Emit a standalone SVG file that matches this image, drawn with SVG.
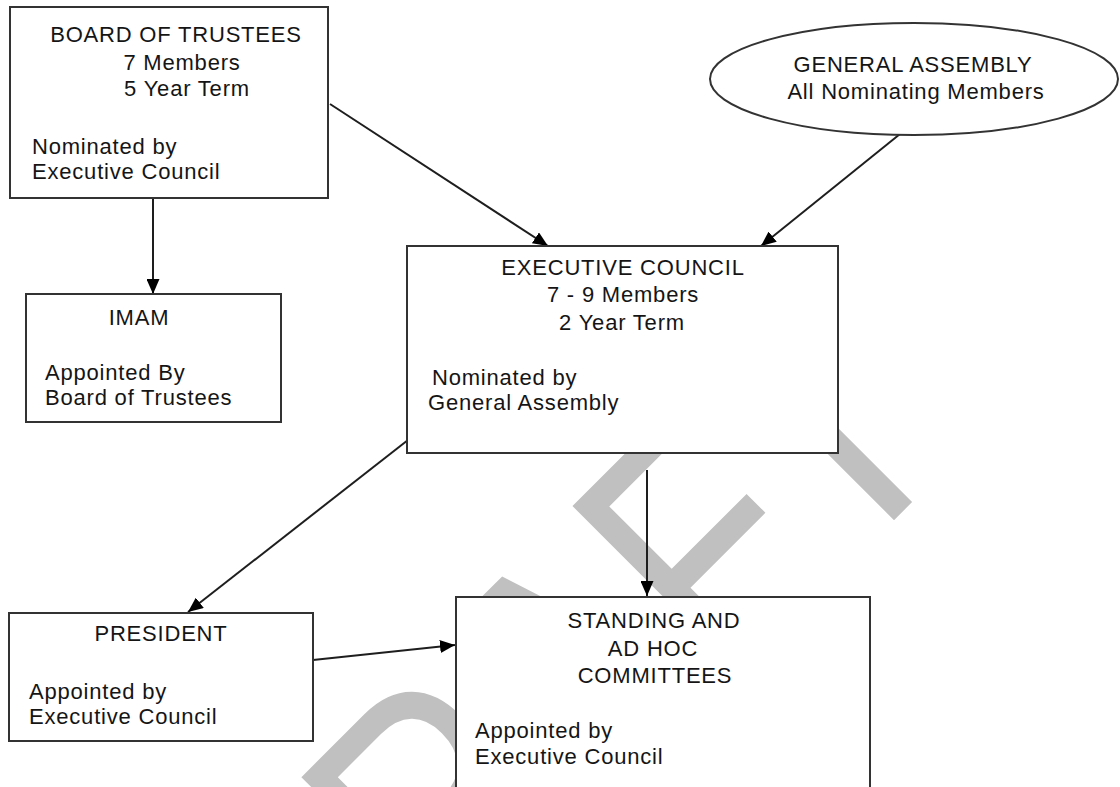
<svg xmlns="http://www.w3.org/2000/svg" width="1120" height="787" viewBox="0 0 1120 787">
<style>
  .box { fill: #ffffff; stroke: #333333; stroke-width: 2; }
  .t { font-family: "Liberation Sans", Arial, sans-serif; font-size: 22px; letter-spacing: 0.8px; fill: #151515; }
  .c { text-anchor: middle; }
  .wm { font-family: "Liberation Sans", Arial, sans-serif; font-size: 345px; fill: #c0c0c0; }
  .conn { stroke: #1e1e1e; stroke-width: 2; fill: none; marker-end: url(#arrow); }
</style>
<defs>
  <marker id="arrow" viewBox="0 0 15 13" refX="15" refY="6.5" markerWidth="15" markerHeight="13" markerUnits="userSpaceOnUse" orient="auto">
    <path d="M0,0 L15,6.5 L0,13 Z" fill="#000000"/>
  </marker>
</defs>
<rect width="1120" height="787" fill="#ffffff"/>
<g id="watermark">
  <text class="wm" transform="rotate(-45) scale(0.8 1)" x="-698" y="1000">DRAFT</text>
</g>
<g id="connectors">
  <line class="conn" x1="153" y1="198" x2="153" y2="294"/>
  <line class="conn" x1="330" y1="104" x2="548" y2="246"/>
  <line class="conn" x1="900" y1="134" x2="761" y2="246"/>
  <line class="conn" x1="408" y1="440" x2="188" y2="612"/>
  <line class="conn" x1="647" y1="470" x2="647" y2="596"/>
  <line class="conn" x1="313" y1="660" x2="455" y2="645"/>
</g>
<g id="board">
  <rect class="box" x="10" y="7" width="318" height="191"/>
  <text class="t c" x="176" y="42">BOARD OF TRUSTEES</text>
  <text class="t c" x="182" y="70">7 Members</text>
  <text class="t c" x="187" y="96">5 Year Term</text>
  <text class="t" x="32" y="154">Nominated by</text>
  <text class="t" x="32" y="179">Executive Council</text>
</g>
<g id="general-assembly">
  <ellipse class="box" cx="914" cy="79" rx="204" ry="56"/>
  <text class="t c" x="913" y="72">GENERAL ASSEMBLY</text>
  <text class="t c" x="916" y="99">All Nominating Members</text>
</g>
<g id="executive">
  <rect class="box" x="407" y="246" width="431" height="207"/>
  <text class="t c" x="623" y="275">EXECUTIVE COUNCIL</text>
  <text class="t c" x="623" y="302">7 - 9 Members</text>
  <text class="t c" x="622" y="330">2 Year Term</text>
  <text class="t" x="432" y="385">Nominated by</text>
  <text class="t" x="428" y="410">General Assembly</text>
</g>
<g id="imam">
  <rect class="box" x="26" y="294" width="255" height="128"/>
  <text class="t c" x="139" y="325">IMAM</text>
  <text class="t" x="45" y="380">Appointed By</text>
  <text class="t" x="45" y="405">Board of Trustees</text>
</g>
<g id="president">
  <rect class="box" x="9" y="613" width="304" height="128"/>
  <text class="t c" x="161" y="641">PRESIDENT</text>
  <text class="t" x="29" y="699">Appointed by</text>
  <text class="t" x="29" y="724">Executive Council</text>
</g>
<g id="committees">
  <rect class="box" x="456" y="597" width="414" height="194"/>
  <text class="t c" x="654" y="628">STANDING AND</text>
  <text class="t c" x="653" y="656">AD HOC</text>
  <text class="t c" x="655" y="683">COMMITTEES</text>
  <text class="t" x="475" y="738">Appointed by</text>
  <text class="t" x="475" y="764">Executive Council</text>
</g>
</svg>
